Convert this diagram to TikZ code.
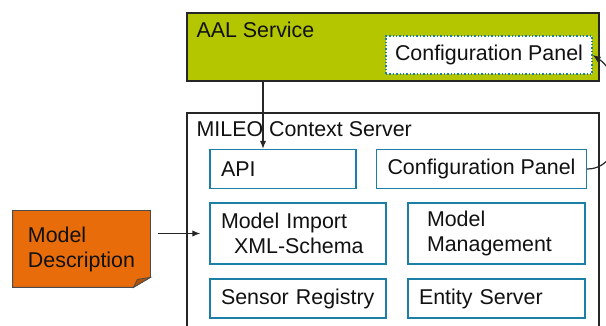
\documentclass[tikz,border=0pt]{standalone}
\usepackage{fontspec}
\setmainfont{Liberation Sans}
\usetikzlibrary{arrows.meta,positioning,calc,backgrounds}
\definecolor{aalgreen}{HTML}{B3C600}
\definecolor{mileoblue}{HTML}{1C7FA6}
\definecolor{noteorange}{HTML}{E96C0A}
\definecolor{inktext}{HTML}{111111}

\begin{document}
\begin{tikzpicture}[x=0.5pt,y=-0.5pt,
    font=\fontsize{10.7}{12.5}\selectfont, text=inktext,
    outerbox/.style={draw=black!85,line width=0.8pt,minimum width=206pt},
    inbox/.style={draw=mileoblue,line width=0.7pt,fill=white,inner xsep=5.5pt,
      align=left,minimum height=19.5pt},
    arr/.style={black!85,line width=0.6pt,-{Latex[length=4pt,width=3.2pt]}}]

  % ---- Frame -------------------------------------------------
  \clip (0,0) rectangle (606,326);

  % ============================================================
  %  AAL service
  % ============================================================
  \node[outerbox,fill=aalgreen,minimum height=34pt] (aal) at (393,47) {};
  \node[anchor=base west,inner sep=0pt] (aaltxt) at ([xshift=5pt,yshift=-12.5pt]aal.north west) {AAL Service};
  \node[draw=mileoblue,densely dotted,line width=0.7pt,fill=white,
    minimum width=103pt,minimum height=19pt] (cptop) at (489,55) {Configuration Panel};

  % ============================================================
  %  MILEO context server
  % ============================================================
  \node[outerbox,fill=white,minimum height=113.5pt] (mileo) at (393,226.5) {};
  \node[anchor=base west,inner sep=0pt] (mileotxt) at ([xshift=5pt,yshift=-12pt]mileo.north west) {MILEO Context Server};

  \node[inbox,text width=62pt] (api) at (283,169) {API};
  \node[inbox,align=center,minimum width=103.5pt] (cplow) at (481.5,169) {Configuration Panel};
  \node[inbox,text width=77pt,minimum height=30.5pt] (mimport) at (298,233.5)
    {Model Import\\\hspace*{6.5pt}XML-Schema};
  \node[inbox,inner xsep=9.5pt,text width=69.5pt,minimum height=30.5pt] (mmanage) at (496.5,233.5)
    {Model\\Management};
  \node[inbox,text width=77pt] (sensreg) at (298,298.5) {Sensor Registry};
  \node[inbox,text width=77.5pt] (entserv) at (496.5,298.5) {Entity Server};

  % ============================================================
  %  Model description (note)
  % ============================================================
  \node[align=left,minimum width=68.5pt,minimum height=38pt] (mdesc) at (81.5,249)
    {Model\\Description};
  \begin{scope}[on background layer]
    \fill[white] (0,0) rectangle (606,326);
    \filldraw[fill=noteorange,draw=black!70,line width=0.4pt]
      (mdesc.north west) -- (mdesc.north east) -- ([yshift=5pt]mdesc.south east)
      -- ([xshift=-8.5pt]mdesc.south east) -- (mdesc.south west) -- cycle;
    \filldraw[fill=noteorange!75!black,draw=black!70,line width=0.4pt]
      ([xshift=-8.5pt]mdesc.south east) -- ([yshift=5pt]mdesc.south east)
      -- ([xshift=-6.5pt,yshift=4pt]mdesc.south east) -- cycle;
  \end{scope}

  % ---- Connectors --------------------------------------------
  \draw[arr] ([xshift=-10pt]api.north |- aal.south) -- ([xshift=-10pt]api.north);
  \draw[arr] ([xshift=4pt]mdesc.east |- mimport.west) -- ([xshift=-4.5pt]mimport.west);
  \draw[arr] (cplow.east) .. controls +(22pt,0pt) and +(18pt,-12pt) .. (cptop.east);

\end{tikzpicture}
\end{document}
